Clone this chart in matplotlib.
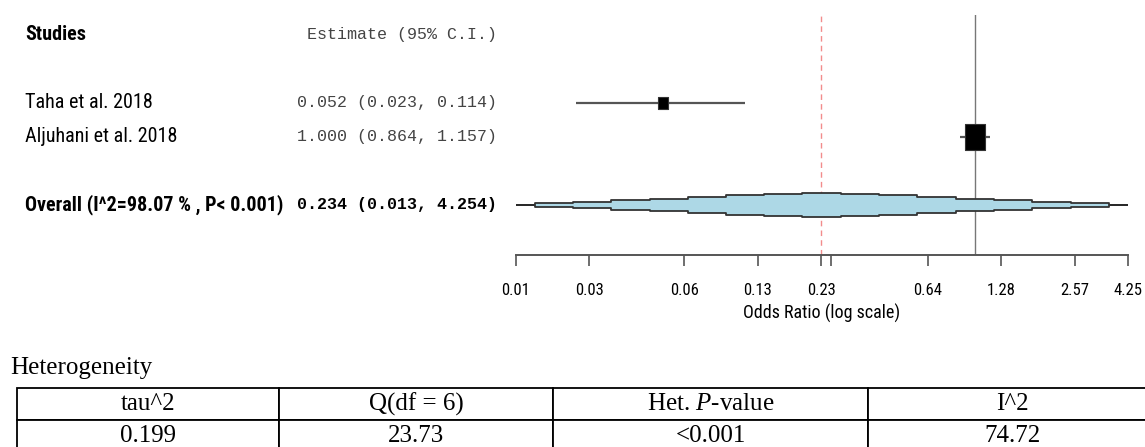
import numpy as np
import matplotlib
matplotlib.use("Agg")
import matplotlib.pyplot as plt
from matplotlib import font_manager as fm
from matplotlib.path import Path

# data
studies = ["Taha et al. 2018", "Aljuhani et al. 2018"]
est = [0.052, 1.000]
lo = [0.023, 0.864]
hi = [0.114, 1.157]

overall_label = "Overall (I^2=98.07 % , P< 0.001)"
overall_est = 0.234
overall_lo = 0.013
overall_hi = 4.254

tick_vals = [0.013, 0.026, 0.064, 0.128, 0.234, 0.256, 0.64, 1.28, 2.57, 4.254]
tick_labels = ["0.01", "0.03", "0.06", "0.13", "0.23", "", "0.64", "1.28", "2.57", "4.25"]

het_cols = ["tau^2", "Q(df = 6)", "Het. $\\it{P}$-value", "I^2"]
het_vals = ["0.199", "23.73", "<0.001", "74.72"]

# fonts: use a narrow sans if one is installed, else shrink Liberation Sans
names = {f.name for f in fm.fontManager.ttflist}
narrow = [n for n in ["Liberation Sans Narrow", "Arial Narrow", "Roboto Condensed",
                      "Open Sans Condensed"] if n in names]
if narrow:
    SANS = [narrow[0], "Liberation Sans"]
    fs_lab, fs_tick, fs_xlab = 14.5, 12, 13
else:
    SANS = ["Liberation Sans", "DejaVu Sans"]
    fs_lab, fs_tick, fs_xlab = 12.2, 10.5, 11.6
MONO = ["Liberation Mono", "DejaVu Sans Mono"]
SERIF = ["Liberation Serif", "DejaVu Serif"]
plt.rcParams["mathtext.fontset"] = "custom"
plt.rcParams["mathtext.rm"] = "Liberation Serif"
plt.rcParams["mathtext.it"] = "Liberation Serif:italic"

W, H = 1145, 447
ROW_PX = 34.0
box_h_px = [12.7, 27]          # heights of the study boxes
band_h_px = [24, 22.5, 20, 16, 12.7, 10.6, 6.5, 3.5]  # overall band, centre outwards

fig = plt.figure(figsize=(W / 100, H / 100), dpi=100)

# forest panel: x from 516 to 1128 px, y from 15 to 255 px
ax_top, ax_bot = 15, 255
ax = fig.add_axes([516 / W, 1 - ax_bot / H, 612 / W, (ax_bot - ax_top) / H])
ax.set_xscale("log")
ax.set_xlim(overall_lo, overall_hi)
y0_px = 35  # header row
ax.set_ylim((ax_bot - y0_px) / ROW_PX, (ax_top - y0_px) / ROW_PX)
for s in ["top", "left", "right"]:
    ax.spines[s].set_visible(False)
ax.spines["bottom"].set_color("#555555")
ax.spines["bottom"].set_linewidth(1.4)
ax.set_yticks([])

ax.set_xticks(tick_vals)
ax.set_xticklabels(tick_labels, fontfamily=SANS, fontsize=fs_tick)
ax.xaxis.set_minor_locator(matplotlib.ticker.FixedLocator([overall_lo, overall_hi]))
ax.xaxis.set_minor_formatter(matplotlib.ticker.NullFormatter())
ax.tick_params(axis="x", which="major", length=8, width=1.2, color="#555555", pad=12)
ax.tick_params(axis="x", which="minor", length=13, width=1.2, color="#333333")
ax.set_xlabel("Odds Ratio (log scale)", fontfamily=SANS, fontsize=fs_xlab, labelpad=4)

ax.axvline(1.0, color="#777777", lw=1)
ax.axvline(overall_est, color="#f28c8c", lw=1, ls=(0, (4, 3)))

rect = Path([(-0.36, -0.5), (0.36, -0.5), (0.36, 0.5), (-0.36, 0.5), (-0.36, -0.5)],
            [Path.MOVETO, Path.LINETO, Path.LINETO, Path.LINETO, Path.CLOSEPOLY])

rows = [2, 3]
for r, e, l, h, bh in zip(rows, est, lo, hi, box_h_px):
    ax.plot([l, h], [r, r], color="#555555", lw=1.6, solid_capstyle="butt")
    ax.plot([e], [r], marker=rect, markersize=bh * 0.72, color="black",
            markeredgecolor="#333333", markeredgewidth=0.8)

# overall: stepped band around the pooled estimate
orow = 5
ax.plot([overall_lo, overall_hi], [orow, orow], color="black", lw=1.2)
n = len(band_h_px)
lc = np.log(overall_est)
ll, lh = np.log(overall_est / overall_lo), np.log(overall_hi / overall_est)
fr = [(2 * k + 1) / (2 * n) for k in range(n)]
xs = [np.exp(lc - fr[k] * ll) for k in range(n - 1, -1, -1)] + \
     [np.exp(lc + fr[k] * lh) for k in range(n)]
hs = band_h_px[::-1] + band_h_px[1:] + [band_h_px[-1]]
hs = np.array(hs) / ROW_PX / 2
ax.fill_between(xs, orow - hs, orow + hs, step="post", facecolor="#add8e6",
                edgecolor="#333333", lw=1.3, zorder=3)

# left text columns
tr = matplotlib.transforms.blended_transform_factory(fig.transFigure, ax.transData)
ax.text(25 / W, 0, "Studies", transform=tr, fontfamily=SANS, fontsize=fs_lab,
        fontweight="bold", va="center", ha="left")
ax.text(497 / W, 0, "Estimate (95% C.I.)", transform=tr, fontfamily=MONO,
        fontsize=12, color="#444444", va="center", ha="right")
for r, name, e, l, h in zip(rows, studies, est, lo, hi):
    ax.text(25 / W, r, name, transform=tr, fontfamily=SANS, fontsize=fs_lab,
            va="center", ha="left")
    ax.text(497 / W, r, f"{e:.3f} ({l:.3f}, {h:.3f})", transform=tr,
            fontfamily=MONO, fontsize=12, color="#444444", va="center", ha="right")
ax.text(25 / W, orow, overall_label, transform=tr, fontfamily=SANS, fontsize=fs_lab,
        fontweight="bold", va="center", ha="left")
ax.text(497 / W, orow, f"{overall_est:.3f} ({overall_lo:.3f}, {overall_hi:.3f})",
        transform=tr, fontfamily=MONO, fontsize=12, fontweight="bold",
        color="black", va="center", ha="right")

# heterogeneity table
fig.text(10 / W, 1 - 368 / H, "Heterogeneity", fontfamily=SERIF, fontsize=18,
         va="center", ha="left")
tab_ax = fig.add_axes([0, 0, 1, 1])
tab_ax.axis("off")
tab_ax.set_xlim(0, 1)
tab_ax.set_ylim(0, 1)
tbl = tab_ax.table(cellText=[het_vals], colLabels=het_cols, cellLoc="center",
                   colWidths=[262, 274, 315, 288],
                   bbox=[17 / W, -5 / H, 1139 / W, 64 / H])
tbl.auto_set_font_size(False)
for cell in tbl.get_celld().values():
    cell.set_linewidth(1.3)
    cell.set_edgecolor("black")
    cell.get_text().set_fontfamily(SERIF)
    cell.get_text().set_fontsize(18)
    cell.set_clip_on(False)

fig.savefig("out.png", dpi=100)
